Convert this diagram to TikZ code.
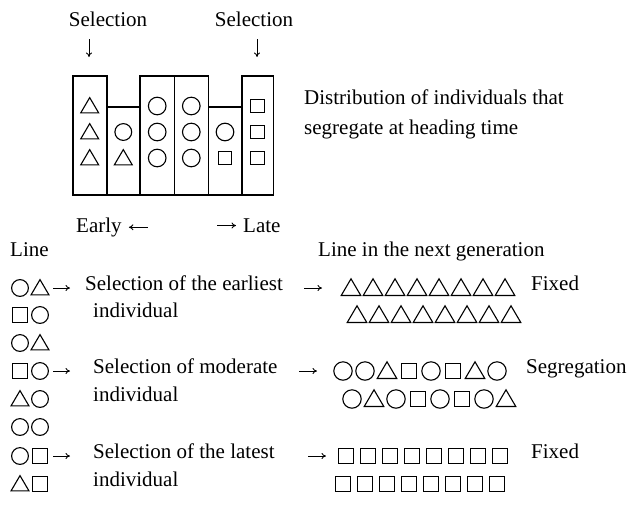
\documentclass[tikz,border=0pt]{standalone}
\usepackage{fontspec}
\setmainfont{Liberation Serif}
\usetikzlibrary{arrows.meta}

% a row of small symbols: x of first centre, y, spacing, scale, list of pic names
\newcommand\symrow[5]{%
  \foreach \s [count=\i from 0] in {#5} {%
    \pgfmathsetmacro\xx{#1+\i*#3}%
    \edef\doit{\noexpand\pic[scale=#4] at (\xx,#2) {\s};}\doit
  }}

\begin{document}
\begin{tikzpicture}[x=1pt,y=-1pt,
  font=\fontsize{21}{25}\selectfont,
  lbl/.style={inner sep=0pt, anchor=mid west},
  glyph/.style={line width=1.1pt, line join=miter},
  col/.style={draw, line width=1.6pt},
  arr/.style={line width=0.9pt, -{To[length=4.5pt,width=6pt]}},
  ci/.pic={\draw[glyph] (0,0) circle[radius=8];},
  tr/.pic={\draw[glyph] (-8.5,6.5) -- (8.5,6.5) -- (0,-8) -- cycle;},
  sq/.pic={\draw[glyph] (-6.8,-6.8) rectangle (6.8,6.8);},
]
\useasboundingbox (0,0) rectangle (631,509);

% ---- heading-time distribution -------------------------------------
\node[inner sep=0pt, anchor=base] (selL) at (108,26) {Selection};
\node[inner sep=0pt, anchor=base] (selR) at (254,26) {Selection};
\coordinate (dLa) at (89,39);  \coordinate (dLb) at (89,57);
\coordinate (dRa) at (257,39); \coordinate (dRb) at (257,57);
\draw[arr] (dLa) -- (dLb);
\draw[arr] (dRa) -- (dRb);

\foreach \xa/\xb/\yt in {72.7/106.7/76, 106.7/140/106.7, 140/174.3/76,
                         174.3/208.3/76, 208.3/241.7/106.7, 241.7/273.3/76}
  \draw[col] (\xa,\yt) rectangle (\xb,195);

\symrow{89.7}{106}{0}{1.05}{tr}
\symrow{89.7}{132}{0}{1.05}{tr}
\symrow{89.7}{158}{0}{1.05}{tr}
\symrow{123.3}{132}{0}{1.05}{ci}
\symrow{123.3}{158}{0}{1.05}{tr}
\foreach \yy in {106,132,158} {
  \symrow{157.2}{\yy}{0}{1.1}{ci}
  \symrow{191.3}{\yy}{0}{1.1}{ci}
  \symrow{257.5}{\yy}{0}{1.0}{sq}
}
\symrow{225}{132}{0}{1.1}{ci}
\symrow{225}{158}{0}{1.0}{sq}

\node[lbl] (dist1) at (304,102) {Distribution of individuals that};
\node[lbl] (dist2) at (304,132) {segregate at heading time};

\node[lbl] (early) at (76,230) {Early};
\node[lbl] (late) at (243,230) {Late};
\draw[arr] ([xshift=26pt]early.east) -- ([xshift=7pt]early.east);
\draw[arr] ([xshift=-26pt]late.west) -- ([xshift=-7pt]late.west);

% ---- selection scheme ----------------------------------------------
\node[lbl] (line) at (10,254) {Line};
\node[lbl] (next) at (318,254) {Line in the next generation};

% parental lines
\symrow{20}{288}{20}{1.05}{ci,tr}
\symrow{20}{315}{20}{1.05}{sq,ci}
\symrow{20}{343}{20}{1.05}{ci,tr}
\symrow{20}{371}{20}{1.05}{sq,ci}
\symrow{20}{399}{20}{1.05}{tr,ci}
\symrow{20}{427}{20}{1.05}{ci,ci}
\symrow{20}{456}{20}{1.05}{ci,sq}
\symrow{20}{484}{20}{1.05}{tr,sq}

\node[lbl] (s1) at (85,288) {Selection of the earliest};
\node[lbl] (i1) at (93,315) {individual};
\node[lbl] (s2) at (93,371) {Selection of moderate};
\node[lbl] (i2) at (93,399) {individual};
\node[lbl] (s3) at (93,456) {Selection of the latest};
\node[lbl] (i3) at (93,484) {individual};

\coordinate (a1a) at (53,288);  \coordinate (a1b) at (70,288);
\coordinate (a2a) at (53,371);  \coordinate (a2b) at (70,371);
\coordinate (a3a) at (53,456);  \coordinate (a3b) at (70,456);
\draw[arr] (a1a) -- (a1b);
\draw[arr] (a2a) -- (a2b);
\draw[arr] (a3a) -- (a3b);

\coordinate (b1a) at (304,288); \coordinate (b1b) at (322,288);
\coordinate (b2a) at (299,371); \coordinate (b2b) at (317,371);
\coordinate (b3a) at (308,456); \coordinate (b3b) at (326,456);
\draw[arr] (b1a) -- (b1b);
\draw[arr] (b2a) -- (b2b);
\draw[arr] (b3a) -- (b3b);

% offspring lines
\symrow{351}{288}{22}{1.15}{tr,tr,tr,tr,tr,tr,tr,tr}
\symrow{357}{315}{22}{1.15}{tr,tr,tr,tr,tr,tr,tr,tr}
\symrow{343}{371}{22}{1.15}{ci,ci,tr,sq,ci,sq,tr,ci}
\symrow{352}{399}{22}{1.15}{ci,tr,ci,sq,ci,sq,ci,tr}
\symrow{346}{456}{22}{1.15}{sq,sq,sq,sq,sq,sq,sq,sq}
\symrow{343}{484}{22}{1.15}{sq,sq,sq,sq,sq,sq,sq,sq}

\node[lbl] (fix1) at (531,288) {Fixed};
\node[lbl] (seg) at (526,371) {Segregation};
\node[lbl] (fix2) at (531,456) {Fixed};
\end{tikzpicture}
\end{document}
